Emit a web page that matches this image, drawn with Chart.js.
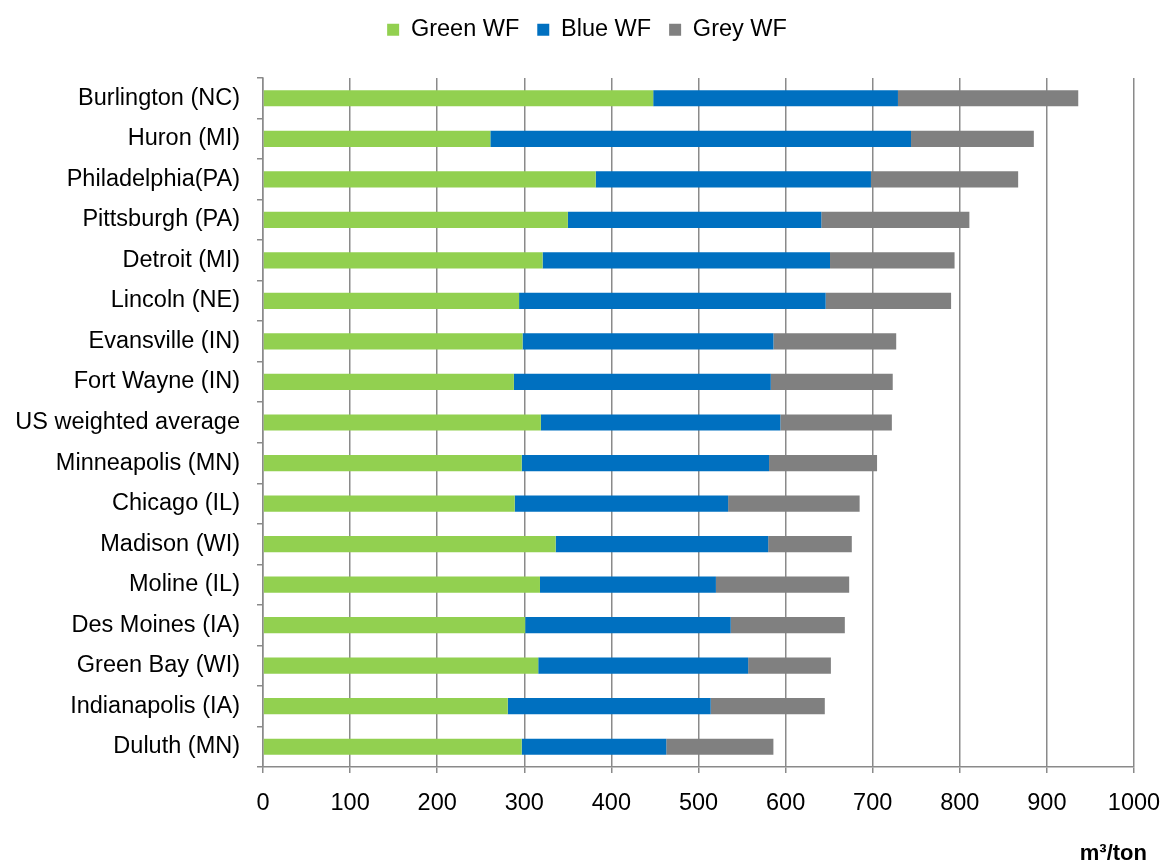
<!DOCTYPE html>
<html>
<head>
<meta charset="utf-8">
<title>Water footprint per city</title>
<script src="https://cdn.jsdelivr.net/npm/chart.js@4.4.1/dist/chart.umd.min.js"></script>
<style>
    html, body { margin: 0; padding: 0; background: #ffffff; }
    #wrap { position: relative; width: 1165px; height: 863px; }
</style>
</head>
<body>
<div id="wrap">
    <canvas id="barchartWF" width="1165" height="863"></canvas>
</div>
<script>
// Data kota (urutan dari atas ke bawah)
const kota = [
    'Burlington (NC)', 'Huron (MI)', 'Philadelphia(PA)', 'Pittsburgh (PA)',
    'Detroit (MI)', 'Lincoln (NE)', 'Evansville (IN)', 'Fort Wayne (IN)',
    'US weighted average', 'Minneapolis (MN)', 'Chicago (IL)', 'Madison (WI)',
    'Moline (IL)', 'Des Moines (IA)', 'Green Bay (WI)', 'Indianapolis (IA)',
    'Duluth (MN)'
];
const greenWF = [448, 261, 382, 350, 321, 294, 298, 288, 319, 297, 289, 336, 318, 301, 316, 281, 297];
const blueWF  = [281, 483, 316, 291, 330, 352, 288, 295, 275, 284, 245, 244, 202, 236, 241, 233, 166];
const greyWF  = [207, 141, 169, 170, 143, 144, 141, 140, 128, 124, 151,  96, 153, 131,  95, 131, 123];
const xTicks  = [0, 100, 200, 300, 400, 500, 600, 700, 800, 900, 1000];

//START JS Diagram Balok Water Footprint
document.addEventListener('DOMContentLoaded', function () {
    const fontUtama = 'Liberation Sans, Arial, sans-serif';
    const warnaGrid = '#8a8a8a';

    // Plugin untuk tinggi legend, posisi legend dan judul sumbu x
    const legendTinggi = {
        id: 'legendTinggi',
        beforeInit(chart) {
            const fitAsli = chart.legend.fit;
            chart.legend.fit = function () {
                fitAsli.bind(chart.legend)();
                this.height = 78;
            };
        },
        afterLayout(chart) {
            // geser legend sedikit ke kanan
            chart.legend.left += 40;
        }
    };
    const judulSumbu = {
        id: 'judulSumbu',
        afterDraw(chart) {
            const c = chart.ctx;
            c.save();
            c.font = 'bold 22px ' + fontUtama;
            c.fillStyle = '#000000';
            c.textAlign = 'right';
            c.textBaseline = 'alphabetic';
            c.fillText('m\u00B3/ton', 1147, 860);
            c.restore();
        }
    };

    const data = {
        labels: kota,
        datasets: [
            { label: 'Green WF', data: greenWF, backgroundColor: '#92D050' },
            { label: 'Blue WF',  data: blueWF,  backgroundColor: '#0070C0' },
            { label: 'Grey WF',  data: greyWF,  backgroundColor: '#808080' },
        ],
    };

    const config = {
        type: 'bar',
        data: data,
        options: {
            indexAxis: 'y',
            responsive: false,
            animation: false,
            layout: { padding: { left: 0, right: 31, top: 0, bottom: 0 } },
            datasets: {
                bar: { barPercentage: 0.4, categoryPercentage: 1.0, borderWidth: 0 }
            },
            scales: {
                x: {
                    stacked: true,
                    min: 0,
                    max: 1000,
                    afterBuildTicks: function (scale) {
                        scale.ticks = xTicks.map(v => ({ value: v }));
                    },
                    afterFit: function (scale) {
                        scale.height = 96;
                        scale.paddingLeft = 0;
                        scale.paddingRight = 0;
                    },
                    grid: { color: warnaGrid, lineWidth: 1.5, tickLength: 6, drawTicks: true },
                    border: { color: warnaGrid, width: 1.5 },
                    ticks: {
                        color: '#000000',
                        padding: 16,
                        maxRotation: 0,
                        font: { family: fontUtama, size: 23.5 },
                        callback: function (value) { return String(value); },
                    },
                },
                y: {
                    stacked: true,
                    afterFit: function (scale) { scale.width = 263; },
                    grid: { offset: true, drawOnChartArea: false, color: warnaGrid, lineWidth: 1.5, tickLength: 6 },
                    border: { color: warnaGrid, width: 1.5 },
                    ticks: { color: '#000000', padding: 17, font: { family: fontUtama, size: 23.5 }, autoSkip: false },
                },
            },
            plugins: {
                legend: {
                    position: 'top',
                    labels: {
                        color: '#000000',
                        boxWidth: 12,
                        boxHeight: 12,
                        padding: 18,
                        font: { family: fontUtama, size: 23.5 },
                    },
                },
                tooltip: { enabled: false },
            },
        },
        plugins: [legendTinggi, judulSumbu],
    };

    const ctx = document.getElementById('barchartWF').getContext('2d');
    new Chart(ctx, config);
});
//END JS Diagram Balok Water Footprint
</script>
</body>
</html>
